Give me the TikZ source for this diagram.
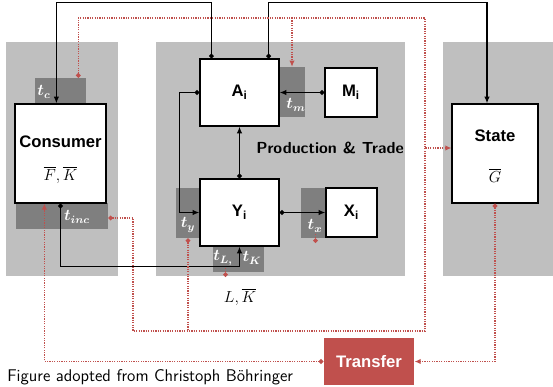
\documentclass[tikz,border=0pt]{standalone}
\usepackage{fontspec}
\usepackage{amsmath}
\usetikzlibrary{arrows.meta, positioning, calc}
\newfontfamily\boxfont{Liberation Sans}
\definecolor{panel}{HTML}{BFBFBF}
\definecolor{taxgray}{HTML}{7F7F7F}
\definecolor{tred}{HTML}{C0504D}
\tikzset{
  %
  panelbox/.style={fill=panel, draw=none, inner sep=0pt},
  agent/.style={draw=black, line width=0.9pt, fill=white, inner sep=0pt,
                font=\boxfont\bfseries\fontsize{12.5}{15}\selectfont},
  taxbox/.style={fill=taxgray, draw=none, inner sep=0pt},
  taxlbl/.style={text=white, font=\boldmath\fontsize{11.5}{13}\selectfont, inner sep=1pt},
  agentlbl/.style={font=\boxfont\bfseries\fontsize{12.5}{15}\selectfont, inner sep=1pt},
  mathlbl/.style={font=\fontsize{12}{14}\selectfont, inner sep=1pt},
  %
  flow/.style={draw=black, line width=0.9pt,
               {Circle[length=3.5pt]}-{Latex[length=5pt, width=4pt]}},
  tax/.style={draw=tred, line width=0.9pt, dash pattern=on 0.9pt off 0.9pt},
  taxdot/.style={tax, {Circle[length=3.5pt]}-},
  taxarr/.style={tax, -{Latex[length=4.5pt, width=4pt]}},
  taxboth/.style={tax, {Circle[length=3.5pt]}-{Latex[length=4.5pt, width=4pt]}},
}

\begin{document}
\begin{tikzpicture}[x=0.75pt, y=-0.75pt]
\useasboundingbox (0,0) rectangle (553,386);

% ---------------------------------------------------------------- panels
\node[panelbox, minimum width=84pt, minimum height=175.5pt] (pcons) at (62,159) {};
\node[panelbox, minimum width=186.75pt, minimum height=175.5pt] (pprod) at (280.5,159) {};
\node[panelbox, minimum width=82.5pt, minimum height=175.5pt] (pstate) at (498,159) {};

% ------------------------------------------------------------- tax boxes
\node[taxbox, minimum width=38.25pt, minimum height=19.5pt] (tc) at (60.5,91) {};
\node[taxbox, minimum width=69pt, minimum height=19.5pt] (tinc) at (62,216) {};
\node[taxbox, minimum width=19.5pt, minimum height=37.5pt] (tm) at (292,92) {};
\node[taxbox, minimum width=18pt, minimum height=37.5pt] (ty) at (188,213) {};
\node[taxbox, minimum width=38.25pt, minimum height=19.5pt] (tlk) at (238.5,259) {};
\node[taxbox, minimum width=18.75pt, minimum height=37.5pt] (tx) at (313.5,213) {};

\node[taxlbl] (tcl) at (44,92) {$t_c$};
\node[taxlbl] (tincl) at (77,217) {$t_{inc}$};
\node[taxlbl] (tml) at (296,105) {$t_m$};
\node[taxlbl] (tyl) at (188,225) {$t_y$};
\node[taxlbl] (tll) at (223,258) {$t_{L,}$};
\node[taxlbl] (tkl) at (252,258) {$t_K$};
\node[taxlbl] (txl) at (315,226) {$t_x$};

% ---------------------------------------------------------------- agents
\node[agent, minimum width=68.25pt, minimum height=74.25pt] (cons) at (60.5,153.5) {};
\node[agentlbl] (consl) at (60.5,142) {Consumer};
\node[mathlbl] (consv) at (60.5,175) {$\overline{F},\overline{K}$};

\node[agent, minimum width=59.25pt, minimum height=50.25pt] (ai) at (239.5,92.5) {A\textsubscript{i}};
\node[agent, minimum width=39pt, minimum height=36.75pt] (mi) at (351,92.5) {M\textsubscript{i}};
\node[agent, minimum width=59.25pt, minimum height=50.25pt] (yi) at (239.5,212.5) {Y\textsubscript{i}};
\node[agent, minimum width=38.25pt, minimum height=36.75pt] (xi) at (351.5,212.5) {X\textsubscript{i}};

\node[agent, minimum width=64.5pt, minimum height=74.25pt] (state) at (495,153.5) {};
\node[agentlbl] (statel) at (495,136) {State};
\node[mathlbl] (statev) at (495,175) {$\overline{G}$};

\node[agent, draw=none, fill=tred, text=white, minimum width=67.5pt,
      minimum height=35.25pt] (tr) at (369,361.5) {Transfer};

\node[font=\sffamily\bfseries\fontsize{12}{14}\selectfont, inner sep=1pt] (prod) at (330,148) {Production \& Trade};
\node[mathlbl] (lk) at (240,297) {$L,\overline{K}$};
\node[font=\sffamily\fontsize{12.7}{15}\selectfont, anchor=base west, inner sep=0pt] (cap) at (7,381.5)
  {Figure adopted from Christoph Böhringer};

% ------------------------------------------------------------ goods flows
\draw[flow] ($(ai.north west)+(12,0)$) -- ++(0,-56) -| ($(cons.north west)+(42,0)$);
\draw[flow] ($(ai.north east)+(-11,0)$) -- ++(0,-56) -| ($(state.north)+(-8,0)$);
\draw[flow] (mi.west) -- (ai.east);
\draw[flow] (yi.north) -- (ai.south);
\draw[flow] (ai.west) -- ++(-20,0) |- (yi.west);
\draw[flow] (yi.east) -- (xi.west);
\draw[flow] (cons.south) -- ++(0,63) -| (yi.south);

% -------------------------------------------------------------- tax flows
\coordinate (busT) at (425,18);
\coordinate (busM) at (425,148);
\coordinate (busB) at (425,331);
\coordinate (busL) at (133,331);

\draw[taxboth] ($(tc.north east)+(-8,0)$) |- (busT) |- ($(state.west)+(0,-5.5)$);
\draw[taxarr] (tm.north |- busT) -- (tm.north);
\draw[taxdot] ($(tinc.east)+(0,2)$) -| (busL) -- (busB) -- (busM);
\draw[taxdot] (ty.south) -- (ty.south |- busL);
\draw[taxdot] ($(tlk.south)+(-13,0)$) -- ($(tlk.south)+(-13,0)$ |- busL);
\draw[taxdot] ($(tx.south)+(2,0)$) -- ($(tx.south)+(2,0)$ |- busL);

\draw[taxboth] (state.south) |- (tr.east);
\draw[taxboth] (tr.west) -| ($(cons.south west)+(30,0)$);

\end{tikzpicture}
\end{document}
